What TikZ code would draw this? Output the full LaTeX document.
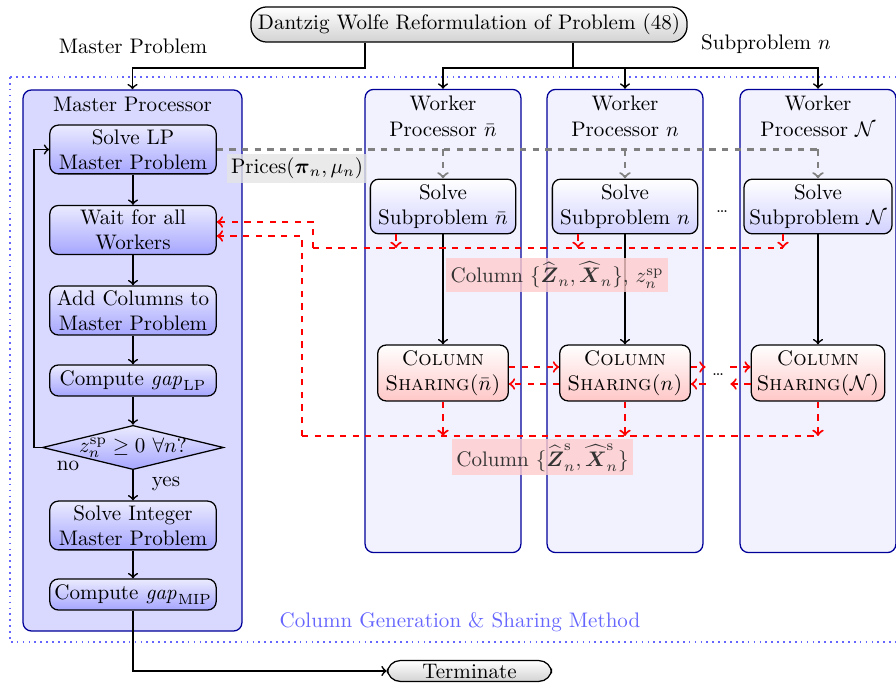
\documentclass[tikz,border=0pt]{standalone}
\usepackage{amsmath,amssymb}
\usetikzlibrary{calc}
\usetikzlibrary{positioning}
\usetikzlibrary{shapes.geometric}

\tikzset{
  flow/.style={->, thick},
  rdash/.style={red, line width=1pt, dashed},
  gdash/.style={gray, line width=1pt, dashed},
  masterbox/.style={draw=blue!60!black, semithick, fill=blue!15, rounded corners=4pt},
  workerbox/.style={draw=blue!60!black, semithick, fill=blue!5, rounded corners=4pt, minimum width=74pt, minimum height=220pt},
  proc/.style={draw, semithick, rounded corners=4pt, top color=blue!8, bottom color=blue!35, align=center, minimum width=79pt, minimum height=14.7pt, inner sep=2pt},
  decision/.style={diamond, draw, semithick, top color=blue!8, bottom color=blue!35, minimum width=86pt, minimum height=21pt, inner sep=0pt},
  subbox/.style={draw, semithick, rounded corners=4pt, top color=white, bottom color=blue!18, align=center, minimum width=69pt, inner sep=2.5pt},
  sharebox/.style={draw, semithick, rounded corners=4pt, top color=white, bottom color=red!22, align=center, minimum width=62pt, inner sep=2.5pt, font=\scshape},
  termbox/.style={draw, semithick, top color=white, bottom color=gray!35},
  pricelabel/.style={fill=gray!20, fill opacity=0.8, text opacity=1, inner sep=2pt},
  collabel/.style={fill=red!20, fill opacity=0.8, text opacity=1, text=black!80, inner sep=2pt},
}

\begin{document}
\begin{tikzpicture}[x=0.475pt, y=-0.475pt]
\useasboundingbox (0,0) rectangle (896,685);

% frame of the whole method
\draw[blue!60, thick, dotted] (10,77) rectangle (905,642);
\node[blue!60] (method) at (460,622) {Column Generation \& Sharing Method};

% processors
\node[masterbox, minimum width=104pt, minimum height=257pt] (mp) at (132.5,360.5) {};
\node[below=0pt of mp.north] (mpt) {Master Processor};
\foreach \i/\x/\t in {1/443/\bar{n}, 2/625/n, 3/818/\mathcal{N}} {
  \node[workerbox] (w\i) at (\x,321) {};
  \node[below=0pt of w\i.north, align=center] (wt\i) {Worker\\Processor $\t$};
}

% top
\node[termbox, rounded corners=7.5pt] (dw) at (469,24.5) {Dantzig Wolfe Reformulation of Problem (48)};
\node (mptxt) at (133,46) {Master Problem};
\node (sptxt) at (766,44) {Subproblem $n$};
\draw[flow] ([xshift=-49.4pt]dw.south) -- ++(0,25) -| (mp.north);
\draw[thick] ([xshift=49.4pt]dw.south) -- ++(0,25) coordinate (split);

% master steps
\node[proc] (lp) at (133,149.5) {Solve LP\\Master Problem};
\node[proc] (wait) at (133,230) {Wait for all\\Workers};
\node[proc] (add) at (133,310.5) {Add Columns to\\Master Problem};
\node[proc] (lpgap) at (133,380.5) {Compute $\mathit{gap}_{\mathrm{LP}}$};
\node[decision] (dec) at (133,447.5) {\makebox[0pt]{$z_n^{\mathrm{sp}} \geq 0 \ \forall n?$}};
\node[proc] (int) at (133,525.5) {Solve Integer\\Master Problem};
\node[proc] (mip) at (133,594.5) {Compute $\mathit{gap}_{\mathrm{MIP}}$};
\node (no) at (68,466) {no};
\node (yes) at (166,484) {yes};
\node[termbox, rounded corners=6pt, minimum width=78pt, inner sep=1.5pt] (term) at (469.5,671) {Terminate};

\foreach \a/\b in {lp/wait, wait/add, add/lpgap, lpgap/dec, dec/int, int/mip}
  \draw[flow] (\a) -- (\b);
\draw[flow] (dec.west) -- ++(-8,0) |- (lp.west);
\draw[flow] (mip.south) |- (term.west);

% buses back to the master
\coordinate (bus1) at (313,248);
\coordinate (bus2) at (302,436);

% worker steps
\foreach \i/\x/\t/\d in {1/443/\bar{n}/-47, 2/625/n/-47, 3/818/\mathcal{N}/-35} {
  \node[subbox] (s\i) at (\x,206.5) {Solve\\Subproblem $\t$};
  \node[sharebox] (c\i) at (\x,373) {Column\\Sharing($\t$)};
  \draw[flow] (split) -| (w\i.north);
  \draw[flow] (s\i) -- (c\i);
  \draw[gdash, ->] (lp.east -| s\i.north) -- (s\i.north);
  \coordinate (d\i) at ($(s\i.south)+(\d,0)$);
  \draw[rdash, ->] (d\i) -- (d\i |- bus1);
  \draw[rdash, ->] (c\i.south) -- (c\i.south |- bus2);
}
\draw[gdash] (lp.east) -- (lp.east -| s3.north);
\draw[rdash] (bus1) -- (d3 |- bus1);
\draw[rdash] (bus2) -- (c3.south |- bus2);
\draw[rdash, ->] (bus1) |- ([yshift=3.8pt]wait.east);
\draw[rdash, ->] (bus2) |- ([yshift=-2.85pt]wait.east);

% sharing between workers
\node (dt1) at (722,212) {\footnotesize\ldots};
\node[minimum width=11.4pt, inner sep=0pt] (dt2) at (718,375) {\footnotesize\ldots};
\coordinate (csup) at (0,367);
\coordinate (cslo) at (0,384);
\draw[rdash, ->] (c1.east |- csup) -- (c2.west |- csup);
\draw[rdash, ->] (c2.west |- cslo) -- (c1.east |- cslo);
\draw[rdash, ->] (c2.east |- csup) -- (dt2.west |- csup);
\draw[rdash, ->] (dt2.east |- csup) -- (c3.west |- csup);
\draw[rdash, ->] (c3.west |- cslo) -- (dt2.east |- cslo);
\draw[rdash, ->] (dt2.west |- cslo) -- (c2.east |- cslo);

% labels
\node[pricelabel] (prices) at (297,168.5) {Prices$(\boldsymbol{\pi}_n,\mu_n)$};
\node[collabel] (colsp) at (557,275) {Column $\{\widehat{\boldsymbol{Z}}_n,\widehat{\boldsymbol{X}}_n\}$, $z_n^{\mathrm{sp}}$};
\node[collabel] (cols) at (542.5,457.5) {Column $\{\widehat{\boldsymbol{Z}}^{\mathrm{s}}_n,\widehat{\boldsymbol{X}}^{\mathrm{s}}_n\}$};
\end{tikzpicture}
\end{document}
